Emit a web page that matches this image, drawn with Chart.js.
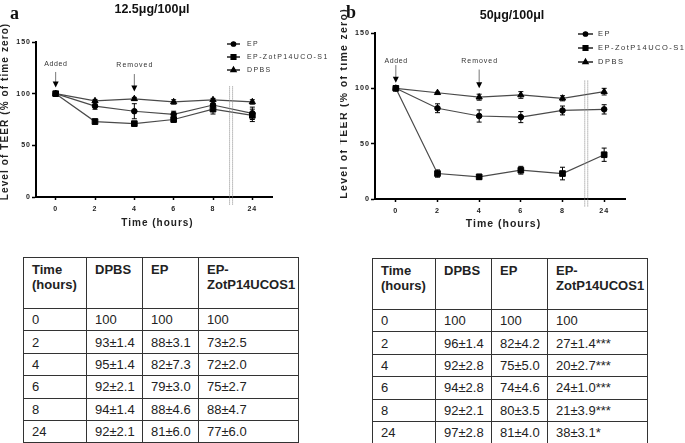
<!DOCTYPE html>
<html>
<head>
<meta charset="utf-8">
<script src="https://cdn.jsdelivr.net/npm/chart.js@4.4.1/dist/chart.umd.min.js"></script>
<style>
body { margin: 0; background: #fff; font-family: 'Liberation Sans', Arial, sans-serif }
#page { position: relative; width: 685px; height: 443px; overflow: hidden }
canvas { position: absolute; top: 0 }
#chartA { left: 0 }
#chartB { left: 340px }
table.teer { position: absolute; border-collapse: collapse; table-layout: fixed; font-size: 13px; color: #222 }
table.teer td { border: 1.5px solid #333; padding: 0 0 0 8px; height: 21.4px; vertical-align: middle; white-space: nowrap; overflow: hidden }
table.teer tr.head td { height: 46px; vertical-align: top; padding-top: 4px; font-weight: bold; line-height: 15px }
#tableA { left: 23px; top: 257px }
#tableB { left: 372px; top: 258px }
</style>
</head>
<body>
<div id="page">
	<canvas id="chartA" width="340" height="230"></canvas>
	<canvas id="chartB" width="345" height="230"></canvas>
	<table class="teer" id="tableA"></table>
	<table class="teer" id="tableB"></table>
</div>
<script>
// time points and series
const timeLabels = ['0', '2', '4', '6', '8', '24']
const seriesNames = ['EP', 'EP-ZotP14UCO-S1', 'DPBS']

// panel a, 12.5ug/100ul
const epA = [100, 88, 83, 80, 89, 81]
const zotA = [100, 73, 71, 75, 85, 79]
const dpbsA = [100, 93, 95, 92, 94, 92]
const epErrA = [0, 3.1, 7.3, 3.0, 4.6, 6.0]
const zotErrA = [0, 2.5, 2.0, 2.7, 4.7, 6.0]
const dpbsErrA = [0, 1.4, 1.4, 2.1, 1.4, 2.1]

// panel b, 50ug/100ul
const epB = [100, 82, 75, 74, 80, 81]
const zotB = [100, 23, 20, 26, 23, 40]
const dpbsB = [100, 96, 92, 94, 91, 97]
const epErrB = [0, 4.0, 5.5, 5.0, 4.0, 4.2]
const zotErrB = [0, 3.3, 2.3, 3.5, 5.7, 6.0]
const dpbsErrB = [0, 0.6, 2.7, 3.0, 2.3, 3.0]

// tables under the plots
const tableHead = ['Time<br>(hours)', 'DPBS', 'EP', 'EP-<br>ZotP14UCOS1']
const tblDpbsA = ['100', '93±1.4', '95±1.4', '92±2.1', '94±1.4', '92±2.1']
const tblEpA = ['100', '88±3.1', '82±7.3', '79±3.0', '88±4.6', '81±6.0']
const tblZotA = ['100', '73±2.5', '72±2.0', '75±2.7', '88±4.7', '77±6.0']
const tblDpbsB = ['100', '96±1.4', '92±2.8', '94±2.8', '92±2.1', '97±2.8']
const tblEpB = ['100', '82±4.2', '75±5.0', '74±4.6', '80±3.5', '81±4.0']
const tblZotB = ['100', '27±1.4***', '20±2.7***', '24±1.0***', '21±3.9***', '38±3.1*']

Chart.defaults.font.family = "'Liberation Sans', Arial, sans-serif"

const marks = [
	{ style: 'circle', radius: 2.8 },
	{ style: 'rect', radius: 4 },
	{ style: 'triangle', radius: 3.6 }
]

let text = (ctx, str, x, y, font, spacing, align, color, rot) => {
	ctx.save()
	ctx.translate(x, y)
	if (rot) ctx.rotate(rot)
	ctx.font = font
	ctx.letterSpacing = spacing + 'px'
	ctx.textAlign = align
	ctx.textBaseline = 'middle'
	ctx.fillStyle = color
	ctx.fillText(str, align === 'center' ? spacing / 2 : 0, 0)
	ctx.restore()
}

let makePanel = (id, p) => {
	const datasets = p.series.map((s, i) => ({
		label: seriesNames[i],
		data: s.values,
		errors: s.errors,
		borderColor: '#4a4a4a',
		borderWidth: 1.2,
		pointStyle: marks[i].style,
		pointRadius: marks[i].radius,
		pointBackgroundColor: '#000',
		pointBorderColor: '#000',
		pointBorderWidth: 1,
		tension: 0
	}))

	const panelPlugin = {
		id: 'panel',
		beforeDraw: chart => {
			chart.ctx.letterSpacing = p.tickSpacing + 'px'
		},
		beforeDatasetsDraw: chart => {
			const ctx = chart.ctx, y = chart.scales.y
			ctx.save()
			ctx.letterSpacing = '0px'
			ctx.strokeStyle = '#000'
			ctx.lineWidth = 1
			chart.data.datasets.forEach((ds, i) => {
				chart.getDatasetMeta(i).data.forEach((pt, j) => {
					const e = ds.errors[j]
					if (!e) return
					const top = y.getPixelForValue(ds.data[j] + e)
					const bot = y.getPixelForValue(ds.data[j] - e)
					ctx.beginPath()
					ctx.moveTo(pt.x, top); ctx.lineTo(pt.x, bot)
					ctx.moveTo(pt.x - 2.5, top); ctx.lineTo(pt.x + 2.5, top)
					ctx.moveTo(pt.x - 2.5, bot); ctx.lineTo(pt.x + 2.5, bot)
					ctx.stroke()
				})
			})
			ctx.restore()
		},
		afterDraw: chart => {
			const ctx = chart.ctx, x = chart.scales.x, y = chart.scales.y
			const area = chart.chartArea
			ctx.save()

			// axis break
			const bx = x.getPixelForValue(p.breakAt)
			ctx.strokeStyle = '#8a8a8a'
			ctx.lineWidth = 1
			ctx.setLineDash([1, 1])
			;[-1.5, 1.5].forEach(dx => {
				ctx.beginPath()
				ctx.moveTo(bx + dx, y.getPixelForValue(107))
				ctx.lineTo(bx + dx, area.bottom + 8)
				ctx.stroke()
			})
			ctx.setLineDash([])

			// added / removed arrows
			p.notes.forEach(n => {
				const ax = x.getPixelForValue(n.at)
				const tip = y.getPixelForValue(n.to)
				text(ctx, n.label, ax, y.getPixelForValue(n.text), '7px "Liberation Sans"', n.spacing, 'center', '#333')
				ctx.strokeStyle = '#777'
				ctx.beginPath()
				ctx.moveTo(ax, y.getPixelForValue(n.from))
				ctx.lineTo(ax, tip - 5)
				ctx.stroke()
				ctx.fillStyle = '#000'
				ctx.beginPath()
				ctx.moveTo(ax - 3, tip - 6)
				ctx.lineTo(ax + 3, tip - 6)
				ctx.lineTo(ax, tip)
				ctx.closePath()
				ctx.fill()
			})

			// legend
			const lg = p.legend
			datasets.forEach((ds, i) => {
				const ly = lg.rows[i]
				ctx.strokeStyle = '#000'
				ctx.lineWidth = 1.3
				ctx.beginPath()
				ctx.moveTo(lg.x0, ly)
				ctx.lineTo(lg.x1, ly)
				ctx.stroke()
				ctx.fillStyle = '#000'
				Chart.helpers.drawPoint(ctx, { pointStyle: marks[i].style, radius: marks[i].radius - 0.6, rotation: 0, borderWidth: 1 }, (lg.x0 + lg.x1) / 2, ly)
				text(ctx, ds.label, lg.tx, ly, lg.size + 'px "Liberation Sans"', lg.spacing, 'left', '#333')
			})

			// titles
			text(ctx, p.letter, p.letterX, p.letterY, 'bold 18px "Liberation Serif"', 0, 'left', '#111')
			text(ctx, p.title, p.titleX, p.titleY, 'bold 12.5px "Liberation Sans"', 0, 'center', '#111')
			text(ctx, 'Time (hours)', p.xTitleX, p.xTitleY, 'bold ' + p.xTitleSize + 'px "Liberation Sans"', 1, 'center', '#222')
			text(ctx, 'Level of TEER (% of time zero)', p.yTitleX, p.yTitleY, 'bold ' + p.yTitleSize + 'px "Liberation Sans"', p.yTitleSpacing, 'center', '#222', -Math.PI / 2)
			ctx.restore()
		}
	}

	return new Chart(document.getElementById(id), {
		type: 'line',
		data: { labels: timeLabels, datasets },
		options: {
			responsive: false,
			animation: false,
			events: [],
			layout: { padding: p.padding },
			plugins: { legend: { display: false }, tooltip: { enabled: false }, title: { display: false } },
			scales: {
				x: {
					type: 'category',
					offset: true,
					grid: { offset: false, drawOnChartArea: false, tickLength: 3, tickWidth: 1.5, tickColor: '#000' },
					border: { color: '#000', width: 2 },
					ticks: { color: '#222', font: { size: p.tickSize, weight: 'bold' }, padding: 5, maxRotation: 0, autoSkip: false },
					afterFit: s => { s.height = 30 }
				},
				y: {
					min: 0,
					max: 150,
					grid: { drawOnChartArea: false, tickLength: 4, tickWidth: 1.5, tickColor: '#000' },
					border: { color: '#000', width: 2 },
					ticks: { stepSize: 50, color: '#222', font: { size: p.tickSize, weight: 'bold' }, padding: 1 },
					afterFit: s => { s.width = p.yWidth }
				}
			}
		},
		plugins: [panelPlugin]
	})
}

let fillTable = (id, cols) => {
	let html = '<colgroup><col style="width:63px"><col style="width:56px"><col style="width:56px"><col style="width:100px"></colgroup>'
	html += '<tr class="head">' + tableHead.map(h => '<td>' + h + '</td>').join('') + '</tr>'
	timeLabels.forEach((t, i) => {
		html += '<tr><td>' + t + '</td>' + cols.map(c => '<td>' + c[i] + '</td>').join('') + '</tr>'
	})
	const el = document.getElementById(id)
	el.style.width = '275px'
	el.innerHTML = html
}

makePanel('chartA', {
	series: [
		{ values: epA, errors: epErrA },
		{ values: zotA, errors: zotErrA },
		{ values: dpbsA, errors: dpbsErrA }
	],
	padding: { left: 0, top: 42, right: 68, bottom: 3 },
	yWidth: 36,
	tickSize: 7,
	tickSpacing: 1,
	breakAt: 4.46,
	notes: [
		{ label: 'Added', at: 0, text: 129, from: 121, to: 106, spacing: 0.6 },
		{ label: 'Removed', at: 2, text: 128, from: 119, to: 102, spacing: 1 }
	],
	legend: { x0: 227, x1: 240, tx: 247, rows: [44, 57, 70], size: 7, spacing: 1.4 },
	letter: 'a', letterX: 10, letterY: 14,
	title: '12.5μg/100μl', titleX: 152, titleY: 10,
	xTitleX: 157, xTitleY: 223, xTitleSize: 10,
	yTitleX: 5, yTitleY: 112, yTitleSize: 10, yTitleSpacing: 1.1
})

makePanel('chartB', {
	series: [
		{ values: epB, errors: epErrB },
		{ values: zotB, errors: zotErrB },
		{ values: dpbsB, errors: dpbsErrB }
	],
	padding: { left: 0, top: 33, right: 60, bottom: 1 },
	yWidth: 35,
	tickSize: 7.2,
	tickSpacing: 1,
	breakAt: 4.57,
	notes: [
		{ label: 'Added', at: 0, text: 125, from: 121, to: 105, spacing: 0.6 },
		{ label: 'Removed', at: 2, text: 125, from: 117, to: 100, spacing: 1 }
	],
	legend: { x0: 238, x1: 253, tx: 258, rows: [34, 48, 62], size: 7.5, spacing: 1.5 },
	letter: 'b', letterX: 6, letterY: 13,
	title: '50μg/100μl', titleX: 172, titleY: 16,
	xTitleX: 163, xTitleY: 224, xTitleSize: 10.5,
	yTitleX: 4, yTitleY: 104, yTitleSize: 10.5, yTitleSpacing: 1.3
})

fillTable('tableA', [tblDpbsA, tblEpA, tblZotA])
fillTable('tableB', [tblDpbsB, tblEpB, tblZotB])
</script>
</body>
</html>
